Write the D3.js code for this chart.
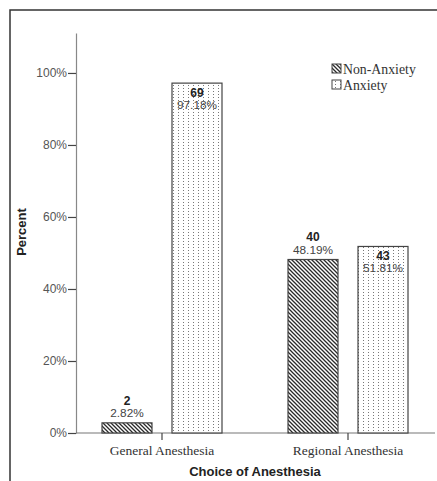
<!DOCTYPE html>
<html><head><meta charset="utf-8">
<script src="https://cdn.jsdelivr.net/npm/d3@7"></script>
<style>body{margin:0;background:#fff}svg{display:block}</style>
</head><body>
<svg id="c" width="437" height="481"></svg>
<script>
const categories = ["General Anesthesia", "Regional Anesthesia"];
const series = ["Non-Anxiety", "Anxiety"];
const counts = { "Non-Anxiety": [2, 40], "Anxiety": [69, 43] };
const percents = { "Non-Anxiety": [2.82, 48.19], "Anxiety": [97.18, 51.81] };
const yTicks = [0, 20, 40, 60, 80, 100];

const svg = d3.select("#c");
const defs = svg.append("defs");
const hatch = defs.append("pattern").attr("id","hatch").attr("patternUnits","userSpaceOnUse")
  .attr("width",4).attr("height",4);
hatch.append("rect").attr("width",4).attr("height",4).attr("fill","#fff");
hatch.append("path").attr("d","M-1,-1 L5,5 M-1,3 L1,5 M3,-1 L5,1").attr("stroke","#2a2a2a").attr("stroke-width",1.3);
const dots = defs.append("pattern").attr("id","dots").attr("patternUnits","userSpaceOnUse")
  .attr("width",5).attr("height",3).attr("x",1);
dots.append("rect").attr("width",5).attr("height",3).attr("fill","#fff");
dots.append("rect").attr("x",2).attr("y",1).attr("width",1).attr("height",1).attr("fill","#777");
const fills = {"Non-Anxiety":"url(#hatch)","Anxiety":"url(#dots)"};

// frame
svg.append("path").attr("d","M10,481 L10,10 L437,10").attr("fill","none").attr("stroke","#333").attr("stroke-width",1.5);

const y = d3.scaleLinear().domain([0, 111.1]).range([433, 33]);
const x = d3.scaleBand().domain(categories).range([69, 441]).padding(0);
const xs = d3.scaleBand().domain(series).range([33, 153]).paddingInner(0.2857).paddingOuter(0);

// y axis
const yAxis = svg.append("g").attr("transform","translate(76,0)")
  .call(d3.axisLeft(y).tickValues(yTicks).tickFormat(d => d + "%").tickSize(8).tickSizeOuter(0));
yAxis.select(".domain").attr("stroke","#888").attr("stroke-width",1.2);
yAxis.selectAll(".tick line").attr("stroke","#444").attr("stroke-width",1.2);
yAxis.selectAll(".tick text").attr("font-family","Arial, 'Liberation Sans', sans-serif")
  .attr("font-size","12px").attr("fill","#555").attr("x",-9);

// x axis
svg.append("line").attr("x1",76).attr("x2",435).attr("y1",433).attr("y2",433).attr("stroke","#777").attr("stroke-width",1.2);
const xAxis = svg.append("g").attr("transform","translate(0,433)")
  .call(d3.axisBottom(x).tickSize(7).tickSizeOuter(0));
xAxis.select(".domain").remove();
xAxis.selectAll(".tick line").attr("stroke","#444").attr("stroke-width",1.2);
xAxis.selectAll(".tick text").attr("font-family","'Liberation Serif', 'Times New Roman', serif")
  .attr("font-size","13.5px").attr("fill","#333").attr("y",12).attr("dy","0.71em");

// bars
const data = [];
categories.forEach((c,i) => series.forEach(s => data.push({c, s, n: counts[s][i], p: percents[s][i]})));
const g = svg.append("g");
g.selectAll("rect.bar").data(data).join("rect").attr("class","bar")
  .attr("x", d => x(d.c) + xs(d.s)).attr("width", xs.bandwidth())
  .attr("y", d => y(d.p)).attr("height", d => y(0) - y(d.p))
  .attr("fill", d => fills[d.s]).attr("stroke","#444").attr("stroke-width",1.2);

// labels
const lab = g.selectAll("g.lab").data(data).join("g").attr("class","lab")
  .attr("transform", d => `translate(${x(d.c) + xs(d.s) + xs.bandwidth()/2},${y(d.p)})`);
lab.append("text").attr("text-anchor","middle")
  .attr("y", d => d.s === "Anxiety" ? 13.5 : -18)
  .attr("font-family","Arial, 'Liberation Sans', sans-serif").attr("font-weight","bold")
  .attr("font-size","12px").attr("fill","#222").text(d => d.n);
lab.append("text").attr("text-anchor","middle")
  .attr("y", d => d.s === "Anxiety" ? 26 : -5.5)
  .attr("font-family","Arial, 'Liberation Sans', sans-serif")
  .attr("font-size","11.8px").attr("fill","#444").text(d => d.p.toFixed(2) + "%");

// axis titles
svg.append("text").attr("x",255).attr("y",476).attr("text-anchor","middle")
  .attr("font-family","Arial, 'Liberation Sans', sans-serif").attr("font-weight","bold")
  .attr("font-size","13px").attr("fill","#222").text("Choice of Anesthesia");
svg.append("text").attr("transform","translate(26,232) rotate(-90)").attr("text-anchor","middle")
  .attr("font-family","Arial, 'Liberation Sans', sans-serif").attr("font-weight","bold")
  .attr("font-size","13px").attr("fill","#222").text("Percent");

// legend
const leg = svg.append("g").attr("transform","translate(332,64)");
const li = leg.selectAll("g").data(series).join("g").attr("transform",(d,i)=>`translate(0,${i*16})`);
li.append("rect").attr("width",9).attr("height",9).attr("fill",d=>fills[d]).attr("stroke","#444").attr("stroke-width",1);
li.append("text").attr("x",11).attr("y",9.5).attr("font-family","'Liberation Serif', 'Times New Roman', serif")
  .attr("font-size","13.8px").attr("fill","#333").text(d=>d);
</script>
</body></html>
